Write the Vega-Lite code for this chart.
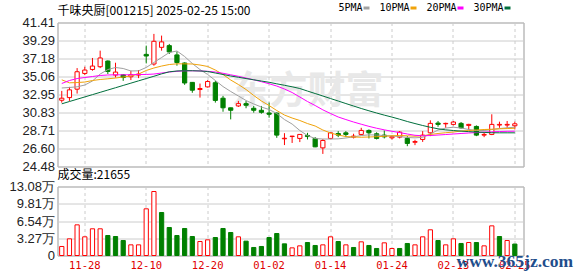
{
 "$schema": "https://vega.github.io/schema/vega-lite/v6.json",
 "padding": {"left": 7.5, "top": 2.5, "right": 0, "bottom": 12},
 "background": "white",
 "bounds": "flush",
 "spacing": 20,
 "config": {
  "font": "Liberation Sans",
  "view": {"stroke": "#999999", "strokeWidth": 1},
  "axis": {"title": null, "ticks": false, "domain": false, "gridColor": "#cccccc", "gridWidth": 1, "labelOverlap": false}
 },
 "data": {"values": [
  {"d":"11-25","o":32.27,"h":33.37,"l":31.99,"c":32.51,"t":"u","v":1.71,"vt":"u","5PMA":33.71,"10PMA":34.67,"20PMA":34.24,"30PMA":31.85},
  {"d":"11-26","o":32.58,"h":33.84,"l":32.19,"c":33.49,"t":"u","v":3.16,"vt":"u","5PMA":33.77,"10PMA":34.32,"20PMA":34.59,"30PMA":32.12},
  {"d":"11-27","o":33.57,"h":36.05,"l":33.05,"c":35.62,"t":"u","v":5.81,"vt":"u","5PMA":33.85,"10PMA":34.35,"20PMA":34.82,"30PMA":32.39},
  {"d":"11-28","o":35.42,"h":36.21,"l":35.23,"c":35.82,"t":"u","v":3.54,"vt":"u","5PMA":34.06,"10PMA":34.41,"20PMA":34.94,"30PMA":32.66},
  {"d":"11-29","o":35.89,"h":37.24,"l":35.74,"c":36.29,"t":"u","v":5.06,"vt":"u","5PMA":34.53,"10PMA":34.59,"20PMA":35.06,"30PMA":32.93},
  {"d":"12-02","o":36.21,"h":38.10,"l":36.05,"c":37.24,"t":"u","v":5.06,"vt":"u","5PMA":35.35,"10PMA":34.71,"20PMA":35.18,"30PMA":33.20},
  {"d":"12-03","o":36.88,"h":36.95,"l":35.35,"c":35.65,"t":"d","v":3.79,"vt":"d","5PMA":35.88,"10PMA":34.79,"20PMA":35.24,"30PMA":33.47},
  {"d":"12-04","o":35.23,"h":36.68,"l":34.94,"c":35.58,"t":"u","v":3.60,"vt":"d","5PMA":36.12,"10PMA":34.88,"20PMA":35.26,"30PMA":33.74},
  {"d":"12-05","o":35.26,"h":35.35,"l":34.55,"c":34.94,"t":"d","v":2.84,"vt":"d","5PMA":36.00,"10PMA":35.00,"20PMA":35.26,"30PMA":34.01},
  {"d":"12-06","o":35.03,"h":35.74,"l":34.64,"c":35.26,"t":"u","v":2.02,"vt":"u","5PMA":35.71,"10PMA":35.12,"20PMA":35.26,"30PMA":34.28},
  {"d":"12-09","o":35.23,"h":35.82,"l":34.87,"c":35.35,"t":"u","v":2.02,"vt":"u","5PMA":35.73,"10PMA":35.35,"20PMA":35.30,"30PMA":34.55},
  {"d":"12-10","o":37.66,"h":38.69,"l":36.60,"c":37.47,"t":"d","v":8.85,"vt":"u","5PMA":36.12,"10PMA":35.77,"20PMA":35.30,"30PMA":34.82},
  {"d":"12-11","o":36.53,"h":40.07,"l":36.33,"c":39.20,"t":"u","v":12.13,"vt":"u","5PMA":36.71,"10PMA":36.06,"20PMA":35.35,"30PMA":35.09},
  {"d":"12-12","o":38.49,"h":39.87,"l":38.10,"c":39.13,"t":"u","v":8.15,"vt":"d","5PMA":37.29,"10PMA":36.29,"20PMA":35.47,"30PMA":35.37},
  {"d":"12-13","o":38.69,"h":38.89,"l":37.71,"c":37.95,"t":"d","v":5.31,"vt":"d","5PMA":37.88,"10PMA":36.47,"20PMA":35.59,"30PMA":35.61},
  {"d":"12-16","o":37.60,"h":38.00,"l":36.33,"c":36.70,"t":"d","v":3.79,"vt":"d","5PMA":38.06,"10PMA":36.55,"20PMA":35.67,"30PMA":35.71},
  {"d":"12-17","o":36.65,"h":36.72,"l":34.08,"c":34.30,"t":"d","v":5.12,"vt":"d","5PMA":37.41,"10PMA":36.55,"20PMA":35.73,"30PMA":35.74},
  {"d":"12-18","o":34.37,"h":34.40,"l":33.15,"c":33.45,"t":"d","v":3.60,"vt":"d","5PMA":36.59,"10PMA":36.53,"20PMA":35.73,"30PMA":35.74},
  {"d":"12-19","o":33.53,"h":34.23,"l":32.58,"c":33.65,"t":"u","v":2.65,"vt":"u","5PMA":35.88,"10PMA":36.41,"20PMA":35.71,"30PMA":35.71},
  {"d":"12-20","o":33.84,"h":34.64,"l":33.76,"c":34.47,"t":"u","v":2.97,"vt":"u","5PMA":35.30,"10PMA":36.24,"20PMA":35.67,"30PMA":35.65},
  {"d":"12-23","o":34.33,"h":34.55,"l":31.99,"c":32.25,"t":"d","v":3.41,"vt":"d","5PMA":34.59,"10PMA":35.82,"20PMA":35.59,"30PMA":35.47},
  {"d":"12-24","o":32.51,"h":32.78,"l":30.92,"c":31.38,"t":"d","v":5.12,"vt":"d","5PMA":33.88,"10PMA":35.30,"20PMA":35.44,"30PMA":35.30},
  {"d":"12-25","o":31.38,"h":31.40,"l":30.02,"c":31.09,"t":"d","v":4.36,"vt":"d","5PMA":33.30,"10PMA":34.65,"20PMA":35.26,"30PMA":35.12},
  {"d":"12-26","o":31.60,"h":32.19,"l":31.48,"c":31.87,"t":"u","v":3.54,"vt":"u","5PMA":32.77,"10PMA":34.12,"20PMA":35.08,"30PMA":34.97},
  {"d":"12-27","o":31.87,"h":32.19,"l":31.33,"c":31.68,"t":"d","v":2.72,"vt":"d","5PMA":32.24,"10PMA":33.53,"20PMA":34.88,"30PMA":34.82},
  {"d":"12-30","o":31.33,"h":31.60,"l":30.81,"c":31.09,"t":"d","v":1.52,"vt":"d","5PMA":31.83,"10PMA":32.83,"20PMA":34.67,"30PMA":34.67},
  {"d":"12-31","o":31.09,"h":31.60,"l":30.69,"c":30.85,"t":"d","v":1.71,"vt":"d","5PMA":31.47,"10PMA":32.18,"20PMA":34.45,"30PMA":34.53},
  {"d":"01-02","o":30.77,"h":32.00,"l":30.22,"c":30.62,"t":"d","v":3.41,"vt":"d","5PMA":31.18,"10PMA":31.65,"20PMA":34.21,"30PMA":34.38},
  {"d":"01-03","o":30.75,"h":30.85,"l":27.85,"c":28.17,"t":"d","v":4.17,"vt":"d","5PMA":30.71,"10PMA":31.06,"20PMA":33.94,"30PMA":34.20},
  {"d":"01-06","o":27.74,"h":28.40,"l":27.00,"c":27.80,"t":"u","v":2.21,"vt":"d","5PMA":30.00,"10PMA":30.53,"20PMA":33.59,"30PMA":34.03},
  {"d":"01-07","o":28.00,"h":28.08,"l":27.25,"c":28.05,"t":"u","v":1.45,"vt":"u","5PMA":29.47,"10PMA":30.18,"20PMA":33.18,"30PMA":33.85},
  {"d":"01-08","o":27.78,"h":28.25,"l":27.35,"c":28.25,"t":"u","v":1.83,"vt":"u","5PMA":28.71,"10PMA":29.89,"20PMA":32.65,"30PMA":33.65},
  {"d":"01-09","o":28.13,"h":28.44,"l":27.66,"c":28.00,"t":"d","v":2.46,"vt":"d","5PMA":28.12,"10PMA":29.53,"20PMA":32.12,"30PMA":33.35},
  {"d":"01-10","o":27.78,"h":27.93,"l":26.75,"c":26.79,"t":"d","v":1.90,"vt":"d","5PMA":27.77,"10PMA":29.24,"20PMA":31.65,"30PMA":33.06},
  {"d":"01-13","o":26.67,"h":27.70,"l":25.96,"c":27.54,"t":"u","v":2.02,"vt":"u","5PMA":27.71,"10PMA":28.77,"20PMA":31.14,"30PMA":32.77},
  {"d":"01-14","o":27.78,"h":28.50,"l":27.70,"c":28.44,"t":"u","v":3.54,"vt":"u","5PMA":27.71,"10PMA":28.42,"20PMA":30.71,"30PMA":32.47},
  {"d":"01-15","o":28.36,"h":28.64,"l":27.93,"c":28.17,"t":"d","v":2.65,"vt":"d","5PMA":27.73,"10PMA":28.18,"20PMA":30.30,"30PMA":32.18},
  {"d":"01-16","o":28.44,"h":28.64,"l":27.93,"c":28.25,"t":"d","v":2.02,"vt":"u","5PMA":27.83,"10PMA":28.00,"20PMA":30.00,"30PMA":31.88},
  {"d":"01-17","o":27.93,"h":28.33,"l":27.78,"c":28.05,"t":"u","v":1.52,"vt":"d","5PMA":27.97,"10PMA":27.95,"20PMA":29.71,"30PMA":31.59},
  {"d":"01-20","o":28.25,"h":29.03,"l":28.13,"c":28.72,"t":"u","v":2.59,"vt":"u","5PMA":28.12,"10PMA":27.92,"20PMA":29.45,"30PMA":31.30},
  {"d":"01-21","o":28.72,"h":28.84,"l":27.78,"c":28.44,"t":"d","v":1.90,"vt":"d","5PMA":28.20,"10PMA":27.95,"20PMA":29.20,"30PMA":31.03},
  {"d":"01-22","o":28.33,"h":28.50,"l":27.66,"c":27.78,"t":"d","v":1.33,"vt":"d","5PMA":28.18,"10PMA":27.98,"20PMA":28.98,"30PMA":30.77},
  {"d":"01-23","o":28.17,"h":28.72,"l":27.78,"c":27.97,"t":"d","v":2.40,"vt":"u","5PMA":28.12,"10PMA":28.03,"20PMA":28.79,"30PMA":30.52},
  {"d":"01-24","o":27.85,"h":28.13,"l":27.66,"c":27.99,"t":"u","v":1.33,"vt":"u","5PMA":28.06,"10PMA":28.09,"20PMA":28.62,"30PMA":30.29},
  {"d":"01-27","o":27.93,"h":28.64,"l":27.78,"c":28.52,"t":"u","v":1.33,"vt":"d","5PMA":28.00,"10PMA":28.12,"20PMA":28.47,"30PMA":30.04},
  {"d":"02-05","o":27.78,"h":28.05,"l":26.87,"c":27.19,"t":"d","v":2.28,"vt":"d","5PMA":27.89,"10PMA":28.09,"20PMA":28.30,"30PMA":29.77},
  {"d":"02-06","o":27.33,"h":27.62,"l":26.99,"c":27.41,"t":"u","v":2.02,"vt":"u","5PMA":27.85,"10PMA":28.04,"20PMA":28.15,"30PMA":29.53},
  {"d":"02-07","o":27.66,"h":28.64,"l":27.37,"c":28.17,"t":"u","v":3.54,"vt":"u","5PMA":27.91,"10PMA":28.09,"20PMA":28.09,"30PMA":29.30},
  {"d":"02-10","o":28.44,"h":29.91,"l":28.05,"c":29.55,"t":"u","v":4.87,"vt":"u","5PMA":28.30,"10PMA":28.24,"20PMA":28.12,"30PMA":29.09},
  {"d":"02-11","o":29.59,"h":29.83,"l":29.15,"c":29.43,"t":"d","v":2.84,"vt":"d","5PMA":28.77,"10PMA":28.36,"20PMA":28.18,"30PMA":28.91},
  {"d":"02-12","o":29.50,"h":29.63,"l":29.03,"c":29.55,"t":"u","v":2.02,"vt":"u","5PMA":29.00,"10PMA":28.45,"20PMA":28.24,"30PMA":28.79},
  {"d":"02-13","o":29.43,"h":29.83,"l":29.31,"c":29.71,"t":"u","v":3.16,"vt":"u","5PMA":29.10,"10PMA":28.53,"20PMA":28.30,"30PMA":28.71},
  {"d":"02-14","o":29.55,"h":29.71,"l":28.92,"c":29.03,"t":"d","v":2.28,"vt":"d","5PMA":29.00,"10PMA":28.65,"20PMA":28.36,"30PMA":28.64},
  {"d":"02-17","o":29.31,"h":29.50,"l":28.80,"c":29.43,"t":"u","v":2.46,"vt":"u","5PMA":28.83,"10PMA":28.71,"20PMA":28.42,"30PMA":28.58},
  {"d":"02-18","o":29.19,"h":29.31,"l":28.05,"c":28.17,"t":"d","v":2.46,"vt":"d","5PMA":28.71,"10PMA":28.77,"20PMA":28.47,"30PMA":28.53},
  {"d":"02-19","o":28.17,"h":28.44,"l":27.93,"c":28.25,"t":"u","v":1.83,"vt":"u","5PMA":28.71,"10PMA":28.83,"20PMA":28.52,"30PMA":28.49},
  {"d":"02-20","o":28.25,"h":30.62,"l":28.17,"c":29.43,"t":"u","v":5.62,"vt":"u","5PMA":28.83,"10PMA":28.86,"20PMA":28.56,"30PMA":28.45},
  {"d":"02-21","o":29.35,"h":29.75,"l":29.03,"c":29.43,"t":"u","v":3.60,"vt":"d","5PMA":28.94,"10PMA":28.91,"20PMA":28.59,"30PMA":28.44},
  {"d":"02-24","o":29.35,"h":29.83,"l":29.03,"c":29.43,"t":"u","v":2.84,"vt":"u","5PMA":29.03,"10PMA":28.94,"20PMA":28.62,"30PMA":28.44},
  {"d":"02-25","o":29.27,"h":29.75,"l":28.84,"c":29.50,"t":"u","v":2.17,"vt":"d","5PMA":29.10,"10PMA":28.98,"20PMA":28.63,"30PMA":28.44}
 ]},
 "vconcat": [
  {
   "width": 466,
   "height": 144,
   "title": {"text": "千味央厨[001215] 2025-02-25 15:00", "anchor": "start", "frame": "group", "offset": -10, "font": "Noto Sans CJK SC", "fontSize": 12, "fontWeight": "normal", "color": "#000000", "baseline": "alphabetic"},
   "encoding": {
    "x": {"field": "d", "type": "ordinal",
     "scale": {"type": "band", "domain": ["11-25","11-26","11-27","11-28","11-29","12-02","12-03","12-04","12-05","12-06","12-09","12-10","12-11","12-12","12-13","12-16","12-17","12-18","12-19","12-20","12-23","12-24","12-25","12-26","12-27","12-30","12-31","01-02","01-03","01-06","01-07","01-08","01-09","01-10","01-13","01-14","01-15","01-16","01-17","01-20","01-21","01-22","01-23","01-24","01-27","02-05","02-06","02-07","02-10","02-11","02-12","02-13","02-14","02-17","02-18","02-19","02-20","02-21","02-24","02-25"], "paddingInner": 0.45, "paddingOuter": 0.5675, "align": 0.247, "round": false},
     "axis": {"values": ["11-28","12-10","12-20","01-02","01-14","01-24","02-13","02-25"], "labels": false, "grid": true, "gridDash": [3,3], "bandPosition": 0.5, "ticks": false, "domain": false}}
   },
   "layer": [
    {
     "data": {"values": [{}]},
     "mark": {"type": "text", "font": "Noto Sans CJK SC", "fontSize": 38, "fontWeight": "bold", "fill": "#e8e8e8", "align": "center", "baseline": "middle"},
     "encoding": {
      "x": {"datum": "01-09", "type": "ordinal"},
      "y": {"datum": 33.2, "type": "quantitative", "scale": {"domain": [24.48, 41.41], "nice": false, "zero": false}},
      "text": {"value": "东方财富"}
     }
    },
    {
     "mark": {"type": "rule", "strokeWidth": 1},
     "encoding": {
      "y": {"field": "l", "type": "quantitative", "scale": {"domain": [24.48, 41.41], "nice": false, "zero": false},
       "axis": {"values": [24.48, 26.60, 28.71, 30.83, 32.95, 35.06, 37.18, 39.29, 41.41], "tickCount": 20, "format": ".2f", "labelOverlap": false, "labelFont": "Liberation Sans", "labelFontSize": 13, "labelColor": "#222222", "labelPadding": 3, "grid": true, "ticks": false, "domain": false}},
      "y2": {"field": "h"},
      "stroke": {"condition": {"test": "datum.t == 'u'", "value": "#ff0000"}, "value": "#008000"}
     }
    },
    {
     "mark": {"type": "bar", "strokeWidth": 1},
     "encoding": {
      "y": {"field": "o", "type": "quantitative", "scale": {"domain": [24.48, 41.41], "nice": false, "zero": false}},
      "y2": {"field": "c"},
      "fill": {"condition": {"test": "datum.t == 'u'", "value": "#ffffff"}, "value": "#008000"},
      "stroke": {"condition": {"test": "datum.t == 'u'", "value": "#ff0000"}, "value": "#008000"}
     }
    },
    {
     "transform": [{"fold": ["5PMA", "10PMA", "20PMA", "30PMA"], "as": ["key", "val"]}],
     "mark": {"type": "line", "strokeWidth": 1},
     "encoding": {
      "y": {"field": "val", "type": "quantitative", "scale": {"domain": [24.48, 41.41], "nice": false, "zero": false}},
      "color": {"field": "key", "type": "nominal",
       "scale": {"domain": ["5PMA", "10PMA", "20PMA", "30PMA"], "range": ["#a0a0a0", "#f0a30a", "#ff00ff", "#006f3c"]},
       "legend": {"orient": "none", "legendX": 304, "legendY": -19.5, "direction": "horizontal", "title": null,
        "labelFont": "DejaVu Sans Mono", "labelFontSize": 10, "labelColor": "#000000",
        "symbolType": "stroke", "symbolSize": 36, "symbolStrokeWidth": 3,
        "labelAlign": "right", "labelOffset": -9, "columnPadding": 3}}
     }
    }
   ]
  },
  {
   "width": 466,
   "height": 69,
   "title": {"text": "成交量:21655", "anchor": "start", "frame": "group", "offset": -10.5, "font": "Noto Sans CJK SC", "fontSize": 12, "fontWeight": "normal", "color": "#000000", "baseline": "alphabetic"},
   "encoding": {
    "x": {"field": "d", "type": "ordinal",
     "scale": {"type": "band", "domain": ["11-25","11-26","11-27","11-28","11-29","12-02","12-03","12-04","12-05","12-06","12-09","12-10","12-11","12-12","12-13","12-16","12-17","12-18","12-19","12-20","12-23","12-24","12-25","12-26","12-27","12-30","12-31","01-02","01-03","01-06","01-07","01-08","01-09","01-10","01-13","01-14","01-15","01-16","01-17","01-20","01-21","01-22","01-23","01-24","01-27","02-05","02-06","02-07","02-10","02-11","02-12","02-13","02-14","02-17","02-18","02-19","02-20","02-21","02-24","02-25"], "paddingInner": 0.45, "paddingOuter": 0.5675, "align": 0.247, "round": false},
     "axis": {"values": ["11-28","12-10","12-20","01-02","01-14","01-24","02-13","02-25"], "labelAngle": 0, "labelAlign": "center", "labelColor": "#e00000", "labelFont": "DejaVu Sans Mono", "labelFontSize": 10.5, "labelPadding": 5, "labelBaseline": "top", "grid": true, "gridDash": [3,3], "bandPosition": 0.5, "ticks": false, "domain": false}}
   },
   "layer": [
    {
     "mark": {"type": "bar", "strokeWidth": 1},
     "encoding": {
      "y": {"field": "v", "type": "quantitative", "scale": {"domain": [0, 13.08], "nice": false, "zero": true},
       "axis": {"values": [0, 3.27, 6.54, 9.81, 13.08], "tickCount": 20, "labelExpr": "datum.value == 0 ? '0' : format(datum.value, '.2f') + '万'", "labelOverlap": false, "labelFont": "Liberation Sans", "labelFontSize": 13, "labelColor": "#222222", "labelPadding": 3, "grid": true, "ticks": false, "domain": false}},
      "fill": {"condition": {"test": "datum.vt == 'u'", "value": "#ffffff"}, "value": "#008000"},
      "stroke": {"condition": {"test": "datum.vt == 'u'", "value": "#ff0000"}, "value": "#008000"}
     }
    },
    {
     "data": {"values": [{}]},
     "mark": {"type": "text", "font": "Liberation Serif", "fontSize": 17.5, "fontWeight": "bold", "fill": "#1f4e8c", "align": "center", "baseline": "alphabetic"},
     "encoding": {
      "x": {"datum": "02-25", "type": "ordinal"},
      "y": {"datum": -2.1, "type": "quantitative", "scale": {"domain": [0, 13.08], "nice": false, "zero": true}},
      "text": {"value": "www.365jz.com"}
     }
    }
   ]
  }
 ]
}
